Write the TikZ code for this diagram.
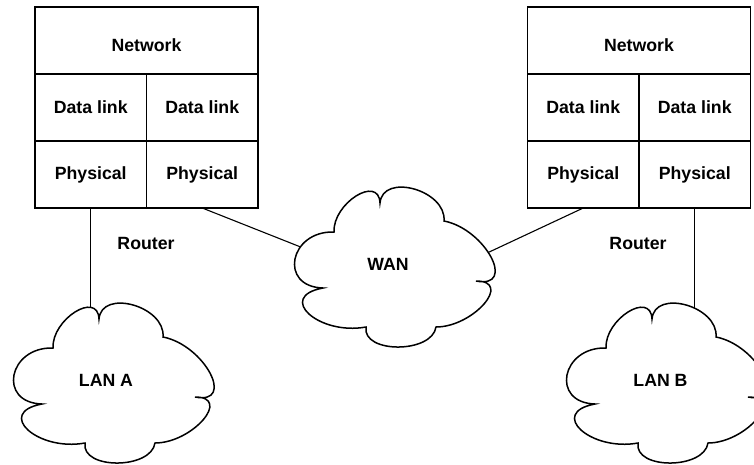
\documentclass[tikz,border=0pt]{standalone}
\usepackage{fontspec}
\setmainfont{Liberation Sans}
\usetikzlibrary{positioning}

\tikzset{
  cell/.style={draw, line width=1.9pt, outer sep=0pt, inner sep=0pt,
    minimum width=111.5pt, minimum height=67pt},
  wide/.style={cell, minimum width=223pt, text height=22pt},
  link/.style={line width=1.1pt},
  lancloud/.pic={
    \coordinate (-c) at (0,0);
    \draw[line width=1.5pt]
      (-70,21) .. controls (-114.7,19.7) and (-103.7,-36.3) .. (-59,-35) coordinate[pos=0.65] (-w)
      .. controls (-60.3,-63.7) and (-14.3,-92.7) .. (-13,-64) coordinate[pos=0.75] (-nw)
      .. controls (-10.3,-94.7) and (53.7,-76.7) .. (51,-46) coordinate[pos=0.6] (-ne)
      .. controls (92.3,-38) and (124.3,22) .. (83,14) coordinate[pos=0.45] (-e)
      .. controls (120.3,14) and (80.3,60) .. (43,60)
      .. controls (39,86.7) and (-31,86.7) .. (-27,60)
      .. controls (-74.3,68.7) and (-117.3,29.7) .. (-70,21) -- cycle;
  }
}

\begin{document}
\begin{tikzpicture}[x=1pt, y=-1pt,
  every node/.style={font=\fontsize{17.7pt}{20pt}\selectfont\bfseries}]
\useasboundingbox (0,0) rectangle (754,464);

% router on the left
\node[wide] (netA) at (146.5,40.5) {Network};
\node[cell, below right=0pt of netA.south west] (dlA1) {Data link};
\node[cell, right=0pt of dlA1] (dlA2) {Data link};
\node[cell, below=0pt of dlA1] (phA1) {Physical};
\node[cell, right=0pt of phA1] (phA2) {Physical};
\node (rtA) at (146,243) {Router};

% router on the right
\node[wide] (netB) at (639,40.5) {Network};
\node[cell, below right=0pt of netB.south west] (dlB1) {Data link};
\node[cell, right=0pt of dlB1] (dlB2) {Data link};
\node[cell, below=0pt of dlB1] (phB1) {Physical};
\node[cell, right=0pt of phB1] (phB2) {Physical};
\node (rtB) at (638,243) {Router};

% clouds
\pic (lanA) at (112,383) {lancloud};
\pic (wan) at (393,267) {lancloud};
\pic (lanB) at (665,383) {lancloud};
\node (lanAtxt) at ([shift={(-6,-2.5)}]lanA-c) {LAN A};
\node (wantxt) at ([shift={(-5,-3)}]wan-c) {WAN};
\node (lanBtxt) at ([shift={(-4.5,-2.5)}]lanB-c) {LAN B};

% links
\draw[link] (phA1.south) -- (phA1.south |- lanA-nw);
\draw[link] (phA2.south) -- (wan-w);
\draw[link] (phB1.south) -- (wan-e);
\draw[link] (phB2.south) -- (phB2.south |- lanB-ne);
\end{tikzpicture}
\end{document}
